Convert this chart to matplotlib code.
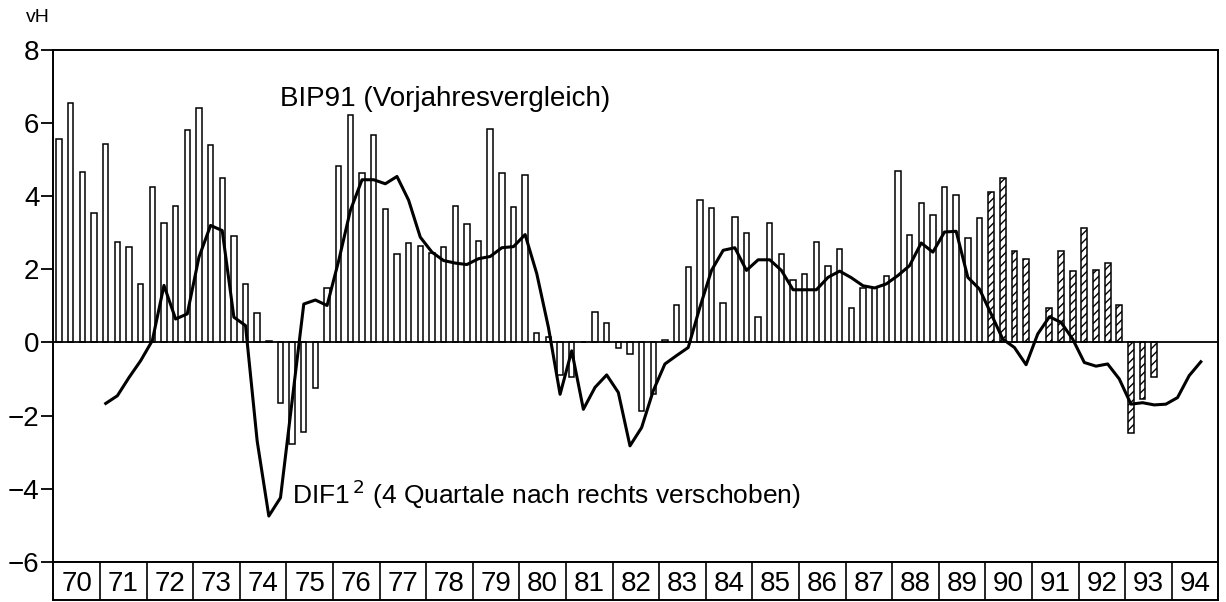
import numpy as np
import matplotlib
matplotlib.use("Agg")
import matplotlib.pyplot as plt

plt.rcParams['font.family'] = ['Liberation Sans', 'DejaVu Sans']
plt.rcParams['hatch.linewidth'] = 1.0

# ---- data (quarterly, 1970 Q1 .. 1994 Q4) ----
year_labels = ["70", "71", "72", "73", "74", "75", "76", "77", "78", "79",
               "80", "81", "82", "83", "84", "85", "86", "87", "88", "89",
               "90", "91", "92", "93", "94"]

bip91 = [5.56, 6.54, 4.65, 3.54,
         5.43, 2.75, 2.61, 1.61,
         4.24, 3.28, 3.74, 5.81,
         6.40, 5.39, 4.50, 2.92,
         1.59, 0.81, 0.05, -1.66,
         -2.77, -2.45, -1.26, 1.49,
         4.82, 6.22, 4.64, 5.68,
         3.66, 2.41, 2.71, 2.63,
         2.45, 2.61, 3.72, 3.24,
         2.78, 5.84, 4.64, 3.70,
         4.58, 0.27, 0.16, -0.90,
         -0.96, 0.00, 0.82, 0.53,
         -0.15, -0.32, -1.89, -1.42,
         0.07, 1.01, 2.06, 3.89,
         3.69, 1.08, 3.43, 3.00,
         0.70, 3.26, 2.41, 1.72,
         1.88, 2.76, 2.08, 2.55,
         0.93, 1.50, 1.50, 1.81,
         4.70, 2.95, 3.81, 3.48,
         4.25, 4.02, 2.85, 3.40,
         4.11, 4.50, 2.51, 2.27,
         0.00, 0.93, 2.51, 1.95,
         3.13, 1.99, 2.18, 1.03,
         -2.47, -1.54, -0.94, np.nan,
         np.nan, np.nan, np.nan, np.nan]

# DIF1^2 line, from 1971 Q1 to 1994 Q3
dif1_start = 4  # quarter index of first value (1971 Q1)
dif1 = [-1.67, -1.46, -0.96, -0.50,
        0.05, 1.56, 0.64, 0.78,
        2.33, 3.20, 3.06, 0.69,
        0.46, -2.70, -4.75, -4.25,
        -1.60, 1.05, 1.16, 1.01,
        2.24, 3.61, 4.45, 4.45,
        4.34, 4.54, 3.89, 2.88,
        2.47, 2.24, 2.17, 2.13,
        2.29, 2.35, 2.59, 2.62,
        2.95, 1.88, 0.41, -1.42,
        -0.23, -1.83, -1.23, -0.89,
        -1.37, -2.83, -2.33, -1.32,
        -0.59, -0.36, -0.14, 0.96,
        1.97, 2.52, 2.59, 1.97,
        2.26, 2.26, 1.97, 1.44,
        1.44, 1.44, 1.78, 1.95,
        1.77, 1.55, 1.49, 1.60,
        1.83, 2.10, 2.72, 2.47,
        3.02, 3.04, 1.78, 1.46,
        0.78, 0.09, -0.14, -0.61,
        0.23, 0.70, 0.55, 0.09,
        -0.55, -0.65, -0.59, -1.00,
        -1.69, -1.65, -1.71, -1.69,
        -1.51, -0.91, -0.53]

first_year = 1970
hatched_from = 1990

# ---- figure ----
W, H = 1226, 602
fig = plt.figure(figsize=(W / 100, H / 100), dpi=100)
x0, x1 = 53.3, 1218.3
y_top, y_bot, y_strip = 50.0, 561.7, 600.0
ax = fig.add_axes([x0 / W, 1 - y_bot / H, (x1 - x0) / W, (y_bot - y_top) / H])
axb = fig.add_axes([x0 / W, 1 - y_strip / H, (x1 - x0) / W, (y_strip - y_bot) / H])

n_years = len(year_labels)
xq = first_year + np.arange(len(bip91)) * 0.25 + 0.125
vals = np.array(bip91, dtype=float)

plain = xq < hatched_from
ax.bar(xq[plain], vals[plain], width=0.115, color='white', edgecolor='black',
       linewidth=1.1, zorder=2)
ax.bar(xq[~plain], vals[~plain], width=0.125, color='white', edgecolor='black',
       linewidth=1.1, hatch='////', zorder=2)

ax.axhline(0, color='black', linewidth=1.3, zorder=3)

xl = xq[dif1_start:dif1_start + len(dif1)]
ax.plot(xl, dif1, color='black', linewidth=2.2, zorder=4)

ax.set_xlim(first_year, first_year + n_years)
ax.set_ylim(-6, 8)
ax.set_yticks(np.arange(-6, 9, 2))
ax.set_xticks([])
ax.tick_params(axis='y', direction='out', length=9, width=1.3, pad=1, labelsize=20)
for s in ax.spines.values():
    s.set_linewidth(1.4)

ax.text(1974.86, 6.66, "BIP91 (Vorjahresvergleich)", fontsize=20, va='center', ha='left')
ax.text(1975.12, -4.15, r"DIF1$^{\,2}$ (4 Quartale nach rechts verschoben)",
        fontsize=19, va='center', ha='left')

fig.text(26 / W, 1 - 18 / H, "vH", fontsize=14, va='center', ha='left')

# year strip
axb.set_xlim(first_year, first_year + n_years)
axb.set_ylim(0, 1)
axb.set_xticks([])
axb.set_yticks([])
for s in axb.spines.values():
    s.set_linewidth(1.4)
for i, lab in enumerate(year_labels):
    if i > 0:
        axb.axvline(first_year + i, color='black', linewidth=1.2)
    axb.text(first_year + i + 0.5, 0.42, lab, fontsize=20, ha='center', va='center')

fig.savefig("out.png", dpi=100)
